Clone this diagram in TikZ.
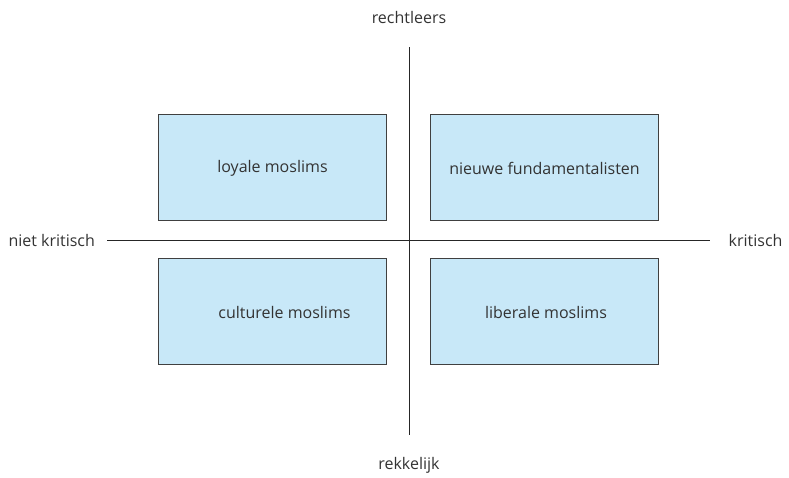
\documentclass[tikz,border=0pt]{standalone}
\usepackage{fontspec}
\setmainfont{Open Sans}
\begin{document}
\begin{tikzpicture}[x=1pt,y=-1pt,
  quad/.style={draw=black!75,line width=0.8pt,fill=boxblue,minimum width=228pt,minimum height=106pt,anchor=north west,inner sep=0pt},
  lbl/.style={text=black!80,font=\fontsize{16}{19}\selectfont},
  axis/.style={draw=black!85,line width=0.9pt}]
\definecolor{boxblue}{HTML}{C8E8F8}
\useasboundingbox (0,0) rectangle (789,477);
\node[quad] (lm) at (158,114) {};
\node[quad] (nf) at (430,114) {};
\node[quad] (cm) at (158,258) {};
\node[quad] (bm) at (430,258) {};
\node[lbl] at (272.5,168) {loyale moslims};
\node[lbl] at (544.5,168) {nieuwe fundamentalisten};
\node[lbl] at (284.5,312) {culturele moslims};
\node[lbl] at (546,312) {liberale moslims};
\node[lbl] (top) at (409,17) {rechtleers};
\node[lbl] (bot) at (409,465) {rekkelijk};
\node[lbl,anchor=west] (left) at (5,240) {niet kritisch};
\node[lbl,anchor=east] (right) at (786,240) {kritisch};
\coordinate (t) at (409,47);
\coordinate (b) at (409,435);
\coordinate (l) at (107,240);
\coordinate (r) at (710,240);
\draw[axis] (t) -- (b);
\draw[axis] (l) -- (r);
\end{tikzpicture}
\end{document}
